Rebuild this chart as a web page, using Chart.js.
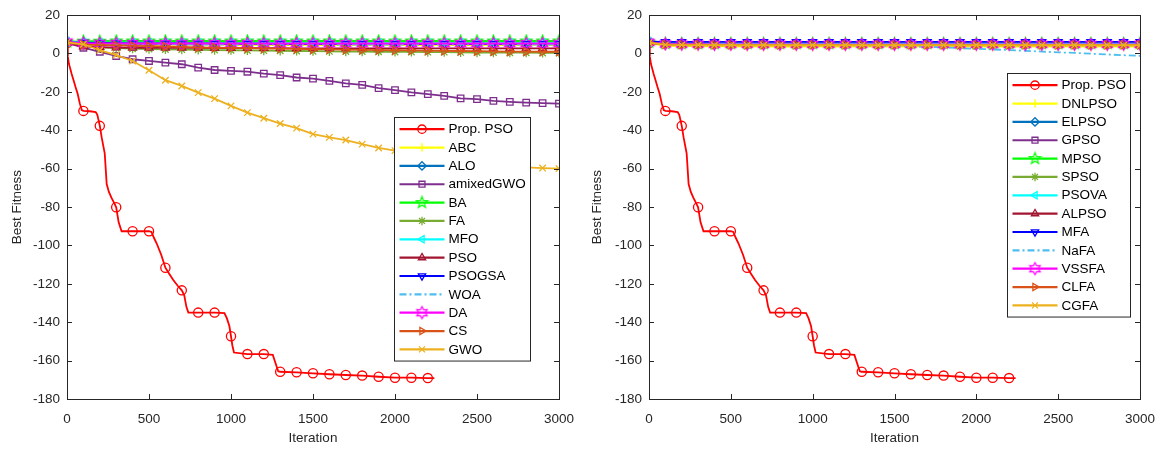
<!DOCTYPE html>
<html>
<head>
<meta charset="utf-8">
<script src="https://cdn.jsdelivr.net/npm/chart.js@4.4.0/dist/chart.umd.min.js"></script>
<style>
  body { margin: 0; background: #fff; }
  #wrap { position: relative; width: 1160px; height: 450px; }
  canvas { position: absolute; top: 0; }
</style>
</head>
<body>
<div id="wrap">
  <canvas id="leftChart" width="580" height="450" style="left:0"></canvas>
  <canvas id="rightChart" width="580" height="450" style="left:580px"></canvas>
</div>
<script>
// ---- data ----
const xTicks = [0, 500, 1000, 1500, 2000, 2500, 3000];
const yTicks = [20, 0, -20, -40, -60, -80, -100, -120, -140, -160, -180];

const iters = [0,100,200,300,400,500,600,700,800,900,1000,1100,1200,1300,1400,1500,
  1600,1700,1800,1900,2000,2100,2200,2300,2400,2500,2600,2700,2800,2900,3000];

// Prop. PSO (same run on both panels)
const redIter = [0,5,12,20,28,40,52,65,78,90,100,140,175,185,193,200,212,230,242,255,
  270,288,300,315,333,400,500,515,530,547,575,600,625,648,675,700,715,728,740,800,
  900,960,975,990,1000,1008,1018,1100,1200,1255,1270,1288,1300,1400,1500,1600,1700,1800,1900,2000,
  2100,2200,2240];
const redVal = [5.5,-1.5,-5.5,-8,-10.6,-14,-17.5,-21,-26,-29.5,-29.9,-30.1,-30.5,-32,-35,-37.7,-44,-52,-68,-72,
  -75,-78,-80.1,-88,-92.6,-92.6,-92.6,-93,-96,-99,-105,-111.6,-115,-118,-121,-123.4,-126,-132,-135,-135,
  -135,-135.3,-138,-142,-147.3,-152,-155.8,-156.6,-156.6,-157,-161,-165.5,-165.8,-166.1,-166.6,-167.1,-167.5,-167.8,-168.4,-168.9,
  -168.9,-169.1,-169.1];

const leftNames = ['Prop. PSO','ABC','ALO','amixedGWO','BA','FA','MFO','PSO','PSOGSA','WOA','DA','CS','GWO'];
const rightNames = ['Prop. PSO','DNLPSO','ELPSO','GPSO','MPSO','SPSO','PSOVA','ALPSO','MFA','NaFA','VSSFA','CLFA','CGFA'];

// left panel
const abc = [5.5,4.7,4.6,4.6,4.5,4.5,4.5,4.5,4.5,4.5,4.5,4.4,4.4,4.4,4.4,4.4,4.4,4.4,4.4,4.4,4.4,4.4,4.4,4.4,4.4,4.4,4.4,4.4,4.4,4.4,4.4];
const alo = [5.8,5.3,5.2,5.2,5.1,5.1,5.1,5.1,5.0,5.0,5.0,5.0,5.0,5.0,5.0,5.0,5.0,5.0,5.0,5.0,5.0,5.0,5.0,5.0,5.0,5.0,5.0,5.0,5.0,5.0,5.0];
const amixedGwo = [5.5,3.0,0.9,-1.3,-3.0,-3.9,-4.8,-5.6,-7.4,-8.6,-9.1,-9.5,-10.5,-11.3,-12.5,-13.1,-14.3,-15.6,-16.3,-18.0,-19.1,-20.3,-21.2,-22.1,-23.4,-23.8,-24.7,-25.2,-25.6,-25.9,-26.1];
const ba = [6.0,6.4,6.4,6.5,6.5,6.5,6.5,6.5,6.5,6.5,6.5,6.5,6.5,6.5,6.5,6.5,6.5,6.5,6.5,6.5,6.5,6.5,6.5,6.5,6.5,6.5,6.5,6.5,6.5,6.5,6.5];
const fa = [5.6,4.0,3.2,2.8,2.5,2.3,2.1,2.0,1.9,1.8,1.7,1.6,1.5,1.4,1.3,1.2,1.1,1.0,1.0,0.9,0.8,0.8,0.7,0.7,0.6,0.5,0.5,0.4,0.4,0.3,0.3];
const mfo = [6.2,5.8,5.7,5.6,5.6,5.6,5.5,5.5,5.5,5.5,5.5,5.5,5.5,5.5,5.5,5.5,5.5,5.5,5.5,5.5,5.5,5.5,5.5,5.5,5.5,5.5,5.5,5.5,5.5,5.5,5.5];
const pso = [5.4,3.6,3.3,3.1,3.0,3.0,2.9,2.9,2.9,2.8,2.8,2.8,2.8,2.8,2.7,2.7,2.7,2.7,2.7,2.7,2.7,2.7,2.7,2.7,2.7,2.7,2.7,2.7,2.7,2.7,2.7];
const psogsa = [5.8,5.6,5.5,5.4,5.3,5.3,5.2,5.2,5.2,5.1,5.1,5.1,5.1,5.0,5.0,5.0,5.0,5.0,5.0,5.0,5.0,5.0,5.0,5.0,5.0,5.0,5.0,5.0,5.0,5.0,5.0];
const woa = [5.6,4.9,4.8,4.8,4.7,4.7,4.7,4.7,4.6,4.6,4.6,4.6,4.6,4.6,4.6,4.6,4.6,4.6,4.6,4.6,4.6,4.6,4.6,4.6,4.6,4.6,4.6,4.6,4.6,4.6,4.6];
const da = [6.0,5.4,5.3,5.3,5.2,5.2,5.2,5.2,5.2,5.2,5.2,5.2,5.2,5.2,5.2,5.2,5.2,5.2,5.2,5.2,5.2,5.2,5.2,5.2,5.2,5.2,5.2,5.2,5.2,5.2,5.2];
const cs = [5.6,4.6,4.4,4.2,4.0,3.8,3.6,3.4,3.2,3.0,2.9,2.8,2.6,2.5,2.4,2.2,2.1,2.0,1.9,1.8,1.7,1.6,1.5,1.4,1.3,1.2,1.1,1.0,1.0,0.9,0.9];
const gwo = [5.8,4.8,1.7,-0.8,-3.9,-8.7,-13.9,-16.9,-20.4,-23.5,-27.3,-30.8,-33.7,-36.5,-38.9,-42.0,-43.7,-45.1,-47.2,-49.2,-50.6,-52.2,-53.6,-55.0,-56.2,-57.2,-58.1,-58.8,-59.3,-59.7,-60.0];

// right panel
const dnlpso = [5.4,4.0,3.8,3.7,3.7,3.7,3.6,3.6,3.6,3.6,3.6,3.6,3.6,3.6,3.6,3.6,3.6,3.6,3.6,3.6,3.6,3.6,3.6,3.6,3.6,3.6,3.6,3.6,3.6,3.6,3.6];
const elpso = [5.8,5.0,4.9,4.9,4.9,4.8,4.8,4.8,4.8,4.8,4.8,4.8,4.8,4.8,4.8,4.8,4.8,4.8,4.8,4.8,4.8,4.8,4.8,4.8,4.8,4.8,4.8,4.8,4.8,4.8,4.8];
const gpso = [5.6,5.1,5.0,5.0,5.0,5.0,5.0,5.0,5.0,5.0,5.0,5.0,5.0,5.0,5.0,5.0,5.0,5.0,5.0,5.0,5.0,5.0,5.0,5.0,5.0,5.0,5.0,5.0,5.0,5.0,5.0];
const mpso = [5.9,5.3,5.2,5.2,5.2,5.2,5.2,5.2,5.2,5.2,5.2,5.2,5.2,5.2,5.2,5.2,5.2,5.2,5.2,5.2,5.2,5.2,5.2,5.2,5.2,5.2,5.2,5.2,5.2,5.2,5.2];
const spso = [5.5,4.4,4.3,4.2,4.2,4.2,4.2,4.2,4.2,4.2,4.2,4.2,4.2,4.2,4.2,4.2,4.2,4.2,4.2,4.2,4.2,4.2,4.2,4.2,4.2,4.2,4.2,4.2,4.2,4.2,4.2];
const psova = [6.0,5.2,5.1,5.1,5.0,5.0,5.0,5.0,5.0,5.0,5.0,5.0,5.0,5.0,5.0,5.0,5.0,5.0,5.0,5.0,5.0,5.0,5.0,5.0,5.0,5.0,5.0,5.0,5.0,5.0,5.0];
const alpso = [5.5,4.6,4.5,4.4,4.4,4.4,4.4,4.4,4.4,4.4,4.4,4.4,4.4,4.4,4.4,4.4,4.4,4.4,4.4,4.4,4.4,4.4,4.4,4.4,4.4,4.4,4.4,4.4,4.4,4.4,4.4];
const mfa = [6.2,6.0,6.0,6.0,6.0,6.0,6.0,6.0,6.0,6.0,6.0,6.0,6.0,6.0,6.0,6.0,6.0,6.0,6.0,6.0,6.0,6.0,6.0,6.0,6.0,6.0,6.0,6.0,6.0,6.0,6.0];
const nafa = [5.5,5.1,5.0,5.0,4.9,4.8,4.8,4.7,4.7,4.6,4.5,4.4,4.3,4.2,4.0,3.8,3.7,3.5,3.2,2.8,2.4,2.1,1.8,1.4,1.0,0.6,0.3,-0.1,-0.5,-0.9,-1.2];
const vssfa = [5.8,5.0,4.9,4.9,4.8,4.8,4.8,4.8,4.8,4.8,4.8,4.8,4.8,4.8,4.8,4.8,4.8,4.8,4.8,4.8,4.8,4.8,4.8,4.8,4.8,4.8,4.8,4.8,4.8,4.8,4.8];
const clfa = [5.6,4.7,4.6,4.6,4.5,4.5,4.5,4.5,4.5,4.5,4.5,4.5,4.5,4.5,4.5,4.5,4.5,4.5,4.5,4.5,4.5,4.5,4.5,4.5,4.5,4.5,4.5,4.5,4.5,4.5,4.5];
const cgfa = [5.6,4.5,4.4,4.4,4.3,4.3,4.3,4.3,4.3,4.3,4.3,4.3,4.3,4.3,4.3,4.3,4.3,4.3,4.3,4.3,4.3,4.3,4.3,4.3,4.3,4.3,4.3,4.3,4.3,4.3,4.3];

// ---- styles ----
Chart.defaults.font.family = '"Liberation Sans", Arial, Helvetica, sans-serif';
const axisColor = '#262626';

function makeStar(n, color, outer, inner) {
  const c = document.createElement('canvas');
  const s = Math.ceil(outer * 2 + 3);
  c.width = s; c.height = s;
  const g = c.getContext('2d');
  g.strokeStyle = color;
  g.lineWidth = 1.2;
  g.beginPath();
  for (let i = 0; i < n * 2; i++) {
    const r = i % 2 ? inner : outer;
    const a = -Math.PI / 2 + i * Math.PI / n;
    const px = s / 2 + r * Math.cos(a), py = s / 2 + r * Math.sin(a);
    i ? g.lineTo(px, py) : g.moveTo(px, py);
  }
  g.closePath();
  g.stroke();
  return c;
}

const styles = [
  { color: '#FF0000', marker: 'circle' },
  { color: '#FFFF00', marker: 'cross' },
  { color: '#0072BD', marker: 'rectRot' },
  { color: '#7E2F8E', marker: 'rect' },
  { color: '#00FF00', marker: makeStar(5, '#00FF00', 6, 2.5) },
  { color: '#77AC30', marker: 'star' },
  { color: '#00FFFF', marker: 'triangle', rot: -90 },
  { color: '#A2142F', marker: 'triangle' },
  { color: '#0000FF', marker: 'triangle', rot: 180 },
  { color: '#4DBEEE', marker: null, dash: [7, 3, 2, 3] },
  { color: '#FF00FF', marker: makeStar(6, '#FF00FF', 6, 3.3) },
  { color: '#D95319', marker: 'triangle', rot: 90 },
  { color: '#EDB120', marker: 'crossRot' }
];

function makeDatasets(names, series) {
  const sets = [];
  const all = [redIter.map((it, i) => ({ x: it, y: redVal[i] }))]
    .concat(series.map(vals => iters.map((it, i) => ({ x: it, y: vals[i] }))));
  all.forEach((data, k) => {
    const st = styles[k];
    sets.push({
      label: names[k],
      data: data,
      borderColor: st.color,
      borderWidth: 1.8,
      borderDash: st.dash || [],
      pointStyle: st.marker || false,
      pointRotation: st.rot || 0,
      pointRadius: st.marker ? (c => (c.raw && c.raw.x % 100 === 0 ? 4.6 : 0)) : 0,
      pointBorderColor: st.color,
      pointBackgroundColor: 'rgba(0,0,0,0)',
      pointBorderWidth: 1.3,
      tension: 0,
      fill: false,
      order: all.length - k
    });
  });
  return sets;
}

const framePlugin = {
  id: 'frame',
  afterDatasetsDraw(chart, args, opts) {
    const { ctx, chartArea: a, scales: { x, y } } = chart;
    ctx.save();
    ctx.strokeStyle = axisColor;
    ctx.lineWidth = 1;
    ctx.setLineDash([]);
    ctx.beginPath();
    xTicks.forEach(v => {
      const px = Math.round(x.getPixelForValue(v)) + 0.5;
      ctx.moveTo(px, a.bottom); ctx.lineTo(px, a.bottom - 5);
      ctx.moveTo(px, a.top); ctx.lineTo(px, a.top + 5);
    });
    yTicks.forEach(v => {
      const py = Math.round(y.getPixelForValue(v)) + 0.5;
      ctx.moveTo(a.left, py); ctx.lineTo(a.left + 5, py);
      ctx.moveTo(a.right, py); ctx.lineTo(a.right - 5, py);
    });
    ctx.stroke();
    ctx.strokeRect(Math.round(a.left) + 0.5, Math.round(a.top) + 0.5,
      Math.round(a.right - a.left), Math.round(a.bottom - a.top));

    // legend box inside the axes
    const sets = chart.data.datasets;
    const rowH = 18.35;
    const bw = opts.w, bh = sets.length * rowH + 5;
    const bx = Math.round(a.right - opts.right - bw) + 0.5;
    const by = Math.round(a.top + opts.top) + 0.5;
    ctx.fillStyle = '#fff';
    ctx.fillRect(bx, by, bw, bh);
    ctx.strokeStyle = axisColor;
    ctx.strokeRect(bx, by, bw, bh);
    ctx.font = '13.5px "Liberation Sans", Arial, sans-serif';
    ctx.textBaseline = 'middle';
    sets.forEach((ds, i) => {
      const cy = by + 2.5 + rowH * (i + 0.5);
      ctx.strokeStyle = ds.borderColor;
      ctx.lineWidth = 2.2;
      ctx.setLineDash(ds.borderDash);
      ctx.beginPath();
      ctx.moveTo(bx + 5, cy); ctx.lineTo(bx + 50, cy);
      ctx.stroke();
      ctx.setLineDash([]);
      if (ds.pointStyle) {
        ctx.lineWidth = 1.3;
        ctx.fillStyle = 'rgba(0,0,0,0)';
        Chart.helpers.drawPoint(ctx, {
          pointStyle: ds.pointStyle, radius: 4.2, rotation: ds.pointRotation, borderWidth: 1.3
        }, bx + 27.5, cy);
      }
      ctx.fillStyle = '#000';
      ctx.fillText(ds.label, bx + 54, cy + 0.5);
    });
    ctx.restore();
  }
};

function buildChart(id, names, series, yWidth, padRight, legendPos) {
  return new Chart(document.getElementById(id), {
    type: 'line',
    data: { datasets: makeDatasets(names, series) },
    options: {
      responsive: false,
      animation: false,
      devicePixelRatio: 1,
      events: [],
      layout: { autoPadding: false, padding: { left: 0, right: padRight, top: 13, bottom: 0 } },
      plugins: {
        legend: { display: false },
        tooltip: { enabled: false },
        frame: legendPos
      },
      scales: {
        x: {
          type: 'linear', min: 0, max: 3000,
          // tick marks are drawn by the frame plugin; tickLength only offsets the labels
          grid: { display: false, drawTicks: true, tickLength: 12 },
          border: { display: false },
          ticks: { stepSize: 500, color: axisColor, padding: 0, font: { size: 13.5 }, maxRotation: 0,
            callback: v => String(v) },
          title: { display: true, text: 'Iteration', color: axisColor, font: { size: 13.5 }, padding: { top: 0, bottom: 4 } },
          afterFit: s => { s.height = 51; }
        },
        y: {
          min: -180, max: 20,
          grid: { display: false, drawTicks: false },
          border: { display: false },
          ticks: { stepSize: 20, color: axisColor, padding: 7, font: { size: 13.5 } },
          title: { display: true, text: 'Best Fitness', color: axisColor, font: { size: 13.5 }, padding: { top: 9, bottom: 0 } },
          afterFit: s => { s.width = yWidth; }
        }
      }
    },
    plugins: [framePlugin]
  });
}

buildChart('leftChart', leftNames,
  [abc, alo, amixedGwo, ba, fa, mfo, pso, psogsa, woa, da, cs, gwo],
  67, 21, { w: 136, right: 29, top: 102 });
buildChart('rightChart', rightNames,
  [dnlpso, elpso, gpso, mpso, spso, psova, alpso, mfa, nafa, vssfa, clfa, cgfa],
  69, 20, { w: 123, right: 10, top: 58 });
</script>
</body>
</html>
